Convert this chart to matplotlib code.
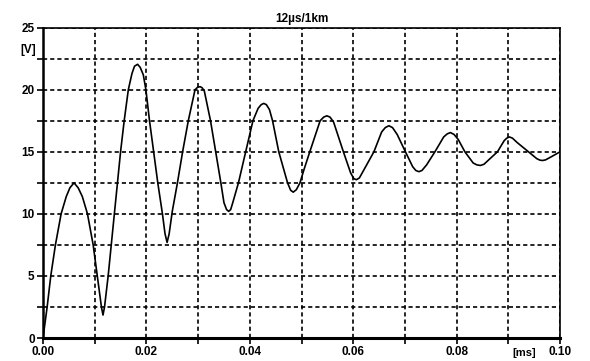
import matplotlib
matplotlib.use("Agg")
import matplotlib.pyplot as plt
from matplotlib.ticker import MultipleLocator, FixedLocator, FuncFormatter

title = "12µs/1km"
y_unit = "[V]"
x_unit = "[ms]"

t_ms = [0.0000, 0.0008, 0.0015, 0.0024, 0.0035, 0.0045, 0.0052, 0.0060, 0.0068, 0.0076,
        0.0086, 0.0097, 0.0105, 0.0113, 0.0116, 0.0119, 0.0126, 0.0132, 0.0138, 0.0144,
        0.0150, 0.0157, 0.0165, 0.0172, 0.0177, 0.0183, 0.0188, 0.0194, 0.0199, 0.0206,
        0.0214, 0.0222, 0.0231, 0.0236, 0.0240, 0.0244, 0.0250, 0.0260, 0.0270, 0.0281,
        0.0294, 0.0299, 0.0304, 0.0308, 0.0312, 0.0324, 0.0334, 0.0344, 0.0350, 0.0355,
        0.0359, 0.0363, 0.0367, 0.0378, 0.0392, 0.0406, 0.0416, 0.0422, 0.0427, 0.0432,
        0.0438, 0.0444, 0.0456, 0.0473, 0.0479, 0.0484, 0.0490, 0.0497, 0.0505, 0.0516,
        0.0536, 0.0543, 0.0549, 0.0555, 0.0562, 0.0581, 0.0595, 0.0601, 0.0606, 0.0612,
        0.0620, 0.0640, 0.0655, 0.0662, 0.0669, 0.0676, 0.0685, 0.0701, 0.0715, 0.0721,
        0.0727, 0.0733, 0.0742, 0.0758, 0.0775, 0.0782, 0.0788, 0.0795, 0.0803, 0.0816,
        0.0832, 0.0839, 0.0846, 0.0853, 0.0862, 0.0879, 0.0892, 0.0897, 0.0902, 0.0908,
        0.0917, 0.0939, 0.0955, 0.0961, 0.0966, 0.0972, 0.0983, 0.1000]
volts = [0.0, 2.5, 5.0, 7.5, 10.0, 11.4, 12.1, 12.5, 12.1, 11.4,
         10.0, 7.5, 5.0, 2.5, 1.85, 2.5, 5.0, 7.5, 10.0, 12.5,
         15.0, 17.5, 20.0, 21.3, 21.9, 22.05, 21.8, 21.2, 20.0, 17.5,
         15.0, 12.5, 10.0, 8.4, 7.7, 8.4, 10.2, 12.5, 15.0, 17.5,
         20.0, 20.2, 20.25, 20.15, 19.9, 17.5, 15.0, 12.5, 10.9, 10.35,
         10.2, 10.35, 10.9, 12.5, 15.0, 17.5, 18.5, 18.8, 18.9, 18.8,
         18.4, 17.5, 15.0, 12.5, 11.9, 11.75, 11.95, 12.5, 13.6, 15.0,
         17.5, 17.8, 17.9, 17.8, 17.4, 15.0, 13.3, 12.85, 12.75, 12.9,
         13.5, 15.0, 16.6, 16.95, 17.1, 16.95, 16.4, 15.0, 13.8, 13.5,
         13.4, 13.5, 13.95, 15.0, 16.2, 16.45, 16.55, 16.4, 16.0, 15.0,
         14.1, 13.95, 13.9, 14.0, 14.35, 15.0, 15.9, 16.1, 16.2, 16.1,
         15.75, 15.0, 14.45, 14.33, 14.3, 14.35, 14.6, 15.0]

x_major = [0.00, 0.02, 0.04, 0.06, 0.08, 0.10]
y_major = [0, 5, 10, 15, 20, 25]

font = ["Liberation Sans", "DejaVu Sans"]
plt.rcParams["font.family"] = font

fig = plt.figure(figsize=(5.90, 3.61), dpi=100)
ax = fig.add_axes([0.0729, 0.0637, 0.8763, 0.8596])

ax.plot(t_ms, volts, color="black", linewidth=1.2, zorder=3,
        solid_joinstyle="round")

ax.set_xlim(0, 0.10)
ax.set_ylim(0, 25)
ax.xaxis.set_major_locator(FixedLocator(x_major))
ax.yaxis.set_major_locator(FixedLocator(y_major))
ax.xaxis.set_minor_locator(MultipleLocator(0.01))
ax.yaxis.set_minor_locator(MultipleLocator(2.5))
ax.xaxis.set_major_formatter(FuncFormatter(lambda v, p: f"{v:.2f}"))
ax.yaxis.set_major_formatter(FuncFormatter(lambda v, p: f"{v:g}"))

ax.grid(which="both", color="black", linestyle=(0, (2.5, 1.8)), linewidth=1.2)
ax.tick_params(which="both", direction="out", length=4, width=1.2, color="black")
ax.tick_params(which="major", labelsize=8.5, pad=2)
for lab in ax.get_xticklabels() + ax.get_yticklabels():
    lab.set_fontweight("bold")

ax.spines["left"].set_linewidth(1.8)
ax.spines["bottom"].set_linewidth(2.2)
ax.spines["top"].set_linewidth(1.2)
ax.spines["right"].set_linewidth(1.2)

ax.set_title(title, fontsize=8.5, fontweight="bold", pad=4)
fig.text(0.048, 0.862, y_unit, fontsize=8.5, fontweight="bold", ha="center", va="center")
fig.text(0.888, 0.022, x_unit, fontsize=8, fontweight="bold", ha="center", va="center")

fig.savefig("out.png", dpi=100)
